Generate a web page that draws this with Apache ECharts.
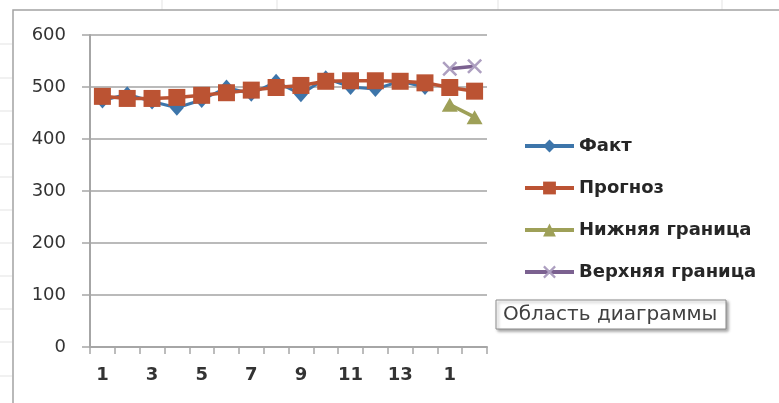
<!DOCTYPE html>
<html>
<head>
<meta charset="utf-8">
<script src="https://cdn.jsdelivr.net/npm/echarts@6.0.0/dist/echarts.min.js"></script>
<style>html,body{margin:0;padding:0;background:#fff;}#c{width:779px;height:403px;}</style>
</head>
<body>
<div id="c"></div>
<script>
const categories = ['1','2','3','4','5','6','7','8','9','10','11','12','13','14','1','2'];
const factValues = [474, 486, 472, 460, 475, 499, 487, 510, 486, 517, 500, 496, 511, 500];
const forecastValues = [482, 478, 478, 480, 484, 489, 494, 499, 503, 511, 512, 512, 511, 508, 499, 492];
const lowerValues = [null, null, null, null, null, null, null, null, null, null, null, null, null, null, 466, 442];
const upperValues = [null, null, null, null, null, null, null, null, null, null, null, null, null, null, 535, 540];
const seriesNames = ['Факт', 'Прогноз', 'Нижняя граница', 'Верхняя граница'];
const yTicks = [0, 100, 200, 300, 400, 500, 600];
const tooltipText = 'Область диаграммы';

const FONT = 'DejaVu Sans';
const chart = echarts.init(document.getElementById('c'), null, {renderer: 'canvas'});

const crossPath = 'path://M0,1.2 L1.2,0 L10,8.8 L8.8,10 Z M8.8,0 L10,1.2 L1.2,10 L0,8.8 Z';

const sheetLines = [];
[162, 277, 498, 722].forEach(x => sheetLines.push({type:'line', silent:true, z:0, shape:{x1:x,y1:0,x2:x,y2:10}, style:{stroke:'#e3e3e3', lineWidth:1}}));
[44, 78, 111, 144, 177, 210, 243, 276, 309, 342, 376].forEach(y => sheetLines.push({type:'line', silent:true, z:0, shape:{x1:0,y1:y,x2:12,y2:y}, style:{stroke:'#e3e3e3', lineWidth:1}}));

const common = {type: 'line', showSymbol: true, showAllSymbol: true, connectNulls: false};

chart.setOption({
  backgroundColor: '#ffffff',
  animation: false,
  grid: {left: 90, right: 292, top: 35, bottom: 56, containLabel: false},
  legend: {
    data: seriesNames,
    orient: 'vertical',
    left: 523, top: 136,
    padding: 0,
    itemWidth: 49, itemHeight: 16, itemGap: 22,
    lineStyle: {width: 4},
    textStyle: {fontFamily: FONT, fontSize: 18, fontWeight: 'bold', color: '#262626', lineHeight: 20}
  },
  xAxis: {
    type: 'category',
    data: categories,
    boundaryGap: true,
    axisLine: {show: true, lineStyle: {color: '#a6a6a6', width: 2}},
    axisTick: {show: true, interval: 0, length: 7, lineStyle: {color: '#a6a6a6', width: 1.5}},
    axisLabel: {interval: 1, margin: 19, fontFamily: FONT, fontSize: 18, fontWeight: 'bold', color: '#333333'},
    splitLine: {show: false}
  },
  yAxis: {
    type: 'value',
    min: yTicks[0], max: yTicks[yTicks.length - 1], interval: 100,
    axisLine: {show: true, lineStyle: {color: '#a6a6a6', width: 2}},
    axisTick: {show: true, length: 8, lineStyle: {color: '#a6a6a6', width: 1.5}},
    axisLabel: {margin: 24, fontFamily: FONT, fontSize: 18, color: '#333333'},
    splitLine: {show: true, lineStyle: {color: '#a3a3a3', width: 1.5}}
  },
  series: [
    Object.assign({}, common, {
      name: seriesNames[0], data: factValues,
      symbol: 'diamond', symbolSize: [14, 16],
      itemStyle: {color: '#3d75aa'},
      lineStyle: {color: '#3d75aa', width: 3}
    }),
    Object.assign({}, common, {
      name: seriesNames[1], data: forecastValues,
      symbol: 'rect', symbolSize: 17,
      itemStyle: {color: '#bb5333'},
      lineStyle: {color: '#bb5333', width: 3.5}
    }),
    Object.assign({}, common, {
      name: seriesNames[2], data: lowerValues,
      symbol: 'triangle', symbolSize: [16, 14],
      itemStyle: {color: '#9ea058'},
      lineStyle: {color: '#9ea058', width: 3.5}
    }),
    Object.assign({}, common, {
      name: seriesNames[3], data: upperValues,
      symbol: crossPath, symbolSize: 15,
      itemStyle: {color: '#ad9fc0'},
      lineStyle: {color: '#7b6190', width: 3.5}
    })
  ],
  graphic: sheetLines.concat([
    {type:'rect', silent:true, z:1, shape:{x:13, y:10, width:820, height:430}, style:{fill:'none', stroke:'#a3a3a3', lineWidth:1.5}},
    {type:'group', z:100, children:[
      {type:'rect', shape:{x:496, y:300, width:230, height:29}, style:{fill:'#ffffff', stroke:'#8c8c8c', lineWidth:1, shadowBlur:3, shadowOffsetX:2, shadowOffsetY:2, shadowColor:'rgba(0,0,0,0.35)'}},
      {type:'text', style:{x:503, y:315, text: tooltipText, font: '20px "DejaVu Sans"', fill:'#404040', verticalAlign:'middle', align:'left'}}
    ]}
  ])
});
</script>
</body>
</html>
